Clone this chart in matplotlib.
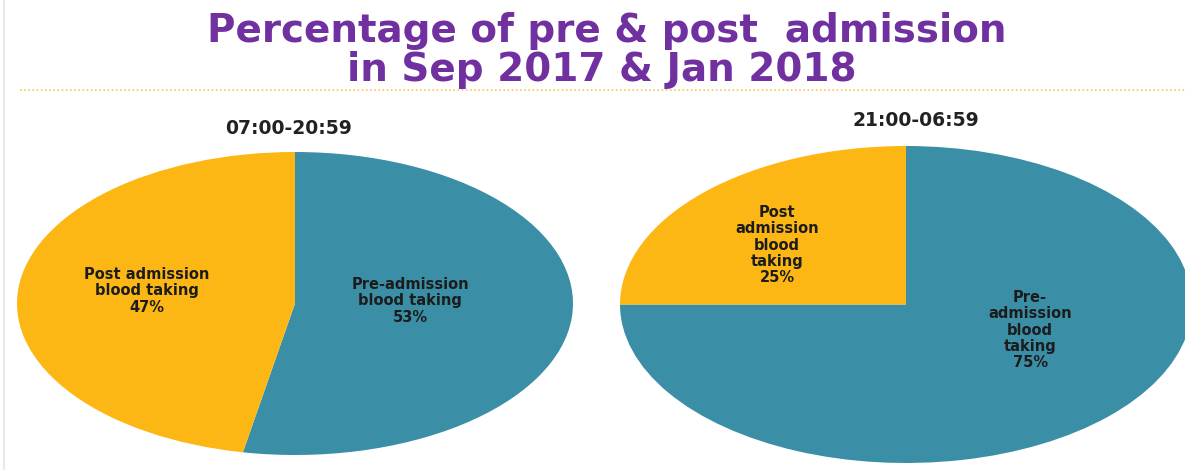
#!/usr/bin/env python3
"""Two pie charts: pre vs post admission blood taking by time of day."""

import matplotlib

matplotlib.use("Agg")
import matplotlib.pyplot as plt
from matplotlib.lines import Line2D

# data
TITLE_LINES = ["Percentage of pre & post  admission", "in Sep 2017 & Jan 2018"]
PERIODS = ["07:00-20:59", "21:00-06:59"]
CATEGORIES = ["Pre-admission blood taking", "Post admission blood taking"]
DAY_PCT = [53, 47]
NIGHT_PCT = [75, 25]

# how each label is wrapped in the source chart
DAY_LABELS = ["Pre-admission\nblood taking", "Post admission\nblood taking"]
NIGHT_LABELS = ["Pre-\nadmission\nblood\ntaking", "Post\nadmission\nblood\ntaking"]

COLORS = {
    "pre": "#3A8FA6",
    "post": "#FDB714",
    "title": "#7030A0",
    "text": "#1C1C1C",
    "rule": "#F3CB4E",
    "edge": "#E9E9E9",
}

W, H = 1185, 470


def fig_box(x0, y0, x1, y1):
    """Pixel box (top-left origin) -> figure [left, bottom, width, height]."""
    return [x0 / W, 1 - y1 / H, (x1 - x0) / W, (y1 - y0) / H]


def draw_pie(fig, box, values, labels, label_pos, period, period_xy):
    ax = fig.add_axes(fig_box(*box))
    ax.pie(
        values,
        startangle=90,
        counterclock=False,
        colors=[COLORS["pre"], COLORS["post"]],
        wedgeprops=dict(linewidth=0),
    )
    ax.set_aspect("auto")
    ax.set_xlim(-1, 1)
    ax.set_ylim(-1, 1)
    ax.axis("off")

    for text, value, (lx, ly) in zip(labels, values, label_pos):
        ax.text(
            lx, ly, f"{text}\n{value}%",
            ha="center", va="center",
            fontsize=10.5, fontweight="bold", color=COLORS["text"],
            linespacing=1.12,
        )

    fig.text(
        period_xy[0] / W, 1 - period_xy[1] / H, period,
        ha="center", va="center",
        fontsize=13.5, fontweight="bold", color="#222222",
    )


def main() -> None:
    fig = plt.figure(figsize=(W / 100, H / 100), dpi=100)
    fig.patch.set_facecolor("white")

    # title, two lines set on their baselines
    fig.text(0.512, 1 - 42 / H, TITLE_LINES[0], ha="center", va="baseline",
             fontsize=28, fontweight="bold", color=COLORS["title"])
    fig.text(0.508, 1 - 81 / H, TITLE_LINES[1], ha="center", va="baseline",
             fontsize=28, fontweight="bold", color=COLORS["title"])

    # dotted rule under the title and faint slide edge on the left
    fig.add_artist(Line2D([20 / W, 1.0], [1 - 90 / H] * 2, transform=fig.transFigure,
                          color=COLORS["rule"], linestyle=(0, (1, 1.5)), linewidth=1.2))
    fig.add_artist(Line2D([4 / W] * 2, [0, 1], transform=fig.transFigure,
                          color=COLORS["edge"], linewidth=1.5))

    draw_pie(
        fig, (17, 152, 573, 455), DAY_PCT, DAY_LABELS,
        [(0.414, 0.017), (-0.532, 0.083)],
        PERIODS[0], (289, 128),
    )
    draw_pie(
        fig, (620, 146, 1192, 463), NIGHT_PCT, NIGHT_LABELS,
        [(0.434, -0.161), (-0.451, 0.375)],
        PERIODS[1], (916, 121),
    )

    fig.savefig("out.png", dpi=100)
    plt.close(fig)


if __name__ == "__main__":
    main()
